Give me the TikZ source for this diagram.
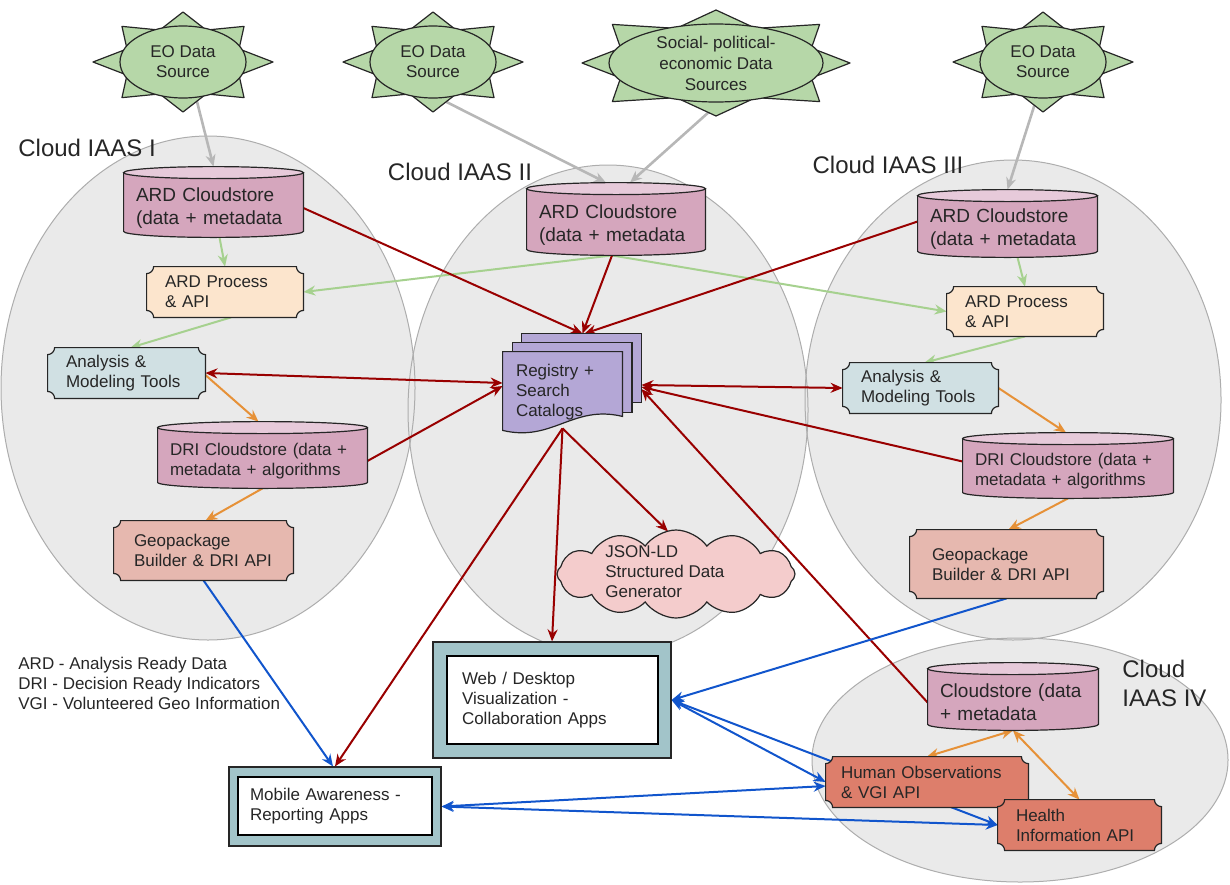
\documentclass[tikz,border=0pt]{standalone}
\usepackage{fontspec}
\setmainfont{Liberation Sans}
\usetikzlibrary{arrows.meta, calc, shapes.geometric, shapes.symbols}
\pgfdeclarelayer{clouds}
\pgfdeclarelayer{edges}
\pgfdeclarelayer{shapes}
\pgfsetlayers{clouds,edges,shapes,main}
\definecolor{ink}{HTML}{262626}
\definecolor{suncol}{HTML}{B6D7A8}
\definecolor{iaascol}{HTML}{EAEAEA}
\definecolor{iaasline}{HTML}{ADADAD}
\definecolor{storecol}{HTML}{D5A6BD}
\definecolor{storelight}{HTML}{E7CADA}
\definecolor{proccol}{HTML}{FCE5CD}
\definecolor{toolcol}{HTML}{D0E0E3}
\definecolor{geocol}{HTML}{E6B8AF}
\definecolor{apicol}{HTML}{DD7E6B}
\definecolor{regcol}{HTML}{B4A7D6}
\definecolor{jsoncol}{HTML}{F4CCCC}
\definecolor{appcol}{HTML}{A2C4C9}
\definecolor{linkred}{HTML}{990000}
\definecolor{linkblue}{HTML}{1155CC}
\definecolor{linkorange}{HTML}{E69138}
\definecolor{linkgreen}{HTML}{A6D18F}
\definecolor{linkgray}{HTML}{B7B7B7}
\tikzset{
    txt/.style = {font=\fontsize{8.5}{10}\selectfont, text=ink},
    bigtxt/.style = {font=\fontsize{9.5}{11.5}\selectfont, text=ink},
    sun/.style = {ellipse, draw=ink, fill=suncol, line width=0.6pt, inner sep=0pt, align=center, txt},
    ray/.style = {draw=ink, fill=suncol, line width=0.6pt, line join=round},
    iaaslabel/.style = {font=\fontsize{12}{14.5}\selectfont, text=ink, align=left, inner sep=0pt},
    store/.style = {txt, inner xsep=6pt, inner ysep=0pt, align=left},
    storebody/.style = {draw=ink, fill=storecol, line width=0.6pt},
    storelid/.style = {draw=ink, fill=storelight, line width=0.6pt},
    plaque/.style = {txt, inner xsep=9pt, inner ysep=0pt, align=left},
    plaqueline/.style = {draw=ink, line width=0.6pt},
    catalog/.style = {draw=ink, fill=regcol, line width=0.6pt},
    appframe/.style = {draw=ink, fill=appcol, line width=0.6pt, inner sep=0pt},
    appbox/.style = {txt, draw=black, fill=white, line width=1pt, inner xsep=7.5pt, inner ysep=0pt, align=left},
    jsoncloud/.style = {cloud, cloud puffs=12, cloud puff arc=110, cloud ignores aspect, draw=ink, fill=jsoncol, line width=0.6pt, inner sep=0pt},
    link/.style = {line width=1pt, ->},
    graylink/.style = {link, draw=linkgray, line width=1.3pt},
    greenlink/.style = {link, draw=linkgreen},
    orangelink/.style = {link, draw=linkorange},
    redlink/.style = {link, draw=linkred},
    bluelink/.style = {link, draw=linkblue}
}
\newcommand\sunrays[3]{%
  \begin{pgfonlayer}{shapes}
  \foreach \ang in {0,180}
    \filldraw[ray] ($(#1.center)+(\ang:#2+13.5pt and #3)$) -- ($(#1.center)+(\ang+19:#2 and #3)$) -- ($(#1.center)+(\ang-19:#2 and #3)$) -- cycle;
  \foreach \ang in {90,270}
    \filldraw[ray] ($(#1.center)+(\ang:#2 and #3+7pt)$) -- ($(#1.center)+(\ang+19:#2 and #3)$) -- ($(#1.center)+(\ang-19:#2 and #3)$) -- cycle;
  \foreach \ang in {45,135,225,315}
    \filldraw[ray] ($(#1.center)+(\ang:1.37*#2 and 1.4*#3)$) -- ($(#1.center)+(\ang+19:#2 and #3)$) -- ($(#1.center)+(\ang-19:#2 and #3)$) -- cycle;
  \end{pgfonlayer}}
\newcommand\plaqueback[2]{%
  \begin{pgfonlayer}{shapes}
  \draw[plaqueline, fill=#2] ($(#1.north west)+(3.5pt,0)$) -- ($(#1.north east)+(-3.5pt,0)$)
    arc[start angle=180, end angle=270, radius=3.5pt] -- ($(#1.south east)+(0,3.5pt)$)
    arc[start angle=90, end angle=180, radius=3.5pt] -- ($(#1.south west)+(3.5pt,0)$)
    arc[start angle=0, end angle=90, radius=3.5pt] -- ($(#1.north west)+(0,-3.5pt)$)
    arc[start angle=270, end angle=360, radius=3.5pt] -- cycle;
  \end{pgfonlayer}}
\newcommand\storeback[1]{%
  \begin{pgfonlayer}{shapes}
  \draw[storebody] let \p1=($(#1.east)-(#1.west)$) in
    ($(#1.north west)+(0,3pt)$) -- ($(#1.south west)+(0,3pt)$)
    arc[start angle=180, end angle=360, x radius=0.5*\x1, y radius=3pt]
    -- ($(#1.north east)+(0,3pt)$) -- cycle;
  \draw[storelid] let \p1=($(#1.east)-(#1.west)$) in
    ($(#1.north)+(0,3pt)$) ellipse[x radius=0.5*\x1, y radius=3pt];
  \end{pgfonlayer}}
\newcommand\catalogstack[1]{%
  \begin{pgfonlayer}{shapes}
  \draw[catalog] ($(#1.north west)+(9.5pt,11pt)$) rectangle ($(#1.south east)+(9.5pt,13pt)$);
  \draw[catalog] ($(#1.north west)+(4.75pt,6.5pt)$) rectangle ($(#1.south east)+(4.75pt,8pt)$);
  \draw[catalog] ($(#1.north west)+(0,2pt)$) -- ($(#1.south west)+(0,-1pt)$)
    .. controls ($(#1.south west)+(25pt,-7pt)$) and ($(#1.south east)+(-25pt,12pt)$) .. ($(#1.south east)+(0,6pt)$)
    -- ($(#1.north east)+(0,2pt)$) -- cycle;
  \end{pgfonlayer}}

\begin{document}
\begin{tikzpicture}[x=0.5pt, y=-0.5pt, >={Stealth[length=6pt, width=5pt]}]
  \useasboundingbox (0,0) rectangle (1230,884);

  \begin{pgfonlayer}{clouds}
    \foreach \cx/\cy/\rx/\ry in {208/388/207/252, 608/410/200/245, 1013/400/208/240, 1020/760/208/122}
      \fill[iaascol] (\cx,\cy) ellipse [x radius=\rx, y radius=\ry];
    \foreach \cx/\cy/\rx/\ry in {208/388/207/252, 608/410/200/245, 1013/400/208/240, 1020/760/208/122}
      \draw[iaasline, line width=0.5pt] (\cx,\cy) ellipse [x radius=\rx, y radius=\ry];
  \end{pgfonlayer}

  \node[iaaslabel, anchor=west] (iaasAlabel) at (18,148) {Cloud IAAS I};
  \node[iaaslabel] (iaasBlabel) at (460,172) {Cloud IAAS II};
  \node[iaaslabel] (iaasClabel) at (888,165) {Cloud IAAS III};
  \node[iaaslabel, anchor=west] (iaasDlabel) at (1122,683) {Cloud\\IAAS IV};

  \node[sun, minimum width=63pt, minimum height=36pt] (eoA) at (183,62) {EO Data\\Source};
  \node[sun, minimum width=63pt, minimum height=36pt] (eoB) at (433,62) {EO Data\\Source};
  \node[sun, minimum width=107pt, minimum height=39pt, font=\fontsize{8.5}{10.5}\selectfont] (socio) at (716,63) {Social- political-\\economic Data\\Sources};
  \node[sun, minimum width=63pt, minimum height=36pt] (eoC) at (1043,62) {EO Data\\Source};
  \sunrays{eoA}{31.5pt}{18pt}
  \sunrays{eoB}{31.5pt}{18pt}
  \sunrays{socio}{53.5pt}{19.5pt}
  \sunrays{eoC}{31.5pt}{18pt}

  \node[store, bigtxt, minimum width=89.5pt, minimum height=29pt, text width=77.5pt] (ardA) at (213.5,208) {ARD Cloudstore\\(data + metadata};
  \node[store, bigtxt, minimum width=89pt, minimum height=30pt, text width=77pt] (ardB) at (616,225) {ARD Cloudstore\\(data + metadata};
  \node[store, bigtxt, minimum width=89.5pt, minimum height=27.5pt, text width=77.5pt] (ardC) at (1007.5,229.5) {ARD Cloudstore\\(data + metadata};
  \node[store, minimum width=104.5pt, minimum height=27pt, text width=92.5pt] (driA) at (262.5,461) {DRI Cloudstore (data +\\metadata + algorithms};
  \node[store, minimum width=105pt, minimum height=26.5pt, text width=93pt] (driC) at (1068,471.5) {DRI Cloudstore (data +\\metadata + algorithms};
  \node[store, bigtxt, minimum width=85pt, minimum height=27.5pt, text width=73pt] (cloudD) at (1013,702.5) {Cloudstore (data\\+ metadata};
  \foreach \s in {ardA,ardB,ardC,driA,driC,cloudD} {\storeback{\s}}

  \node[plaque, minimum width=78pt, minimum height=25pt, text width=60pt] (procA) at (225,292) {ARD Process\\\& API};
  \node[plaque, minimum width=78pt, minimum height=24.5pt, text width=60pt] (procC) at (1025,311.5) {ARD Process\\\& API};
  \node[plaque, minimum width=78.5pt, minimum height=25pt, text width=60.5pt] (toolsA) at (126.5,373) {Analysis \&\\Modeling Tools};
  \node[plaque, minimum width=77.5pt, minimum height=25pt, text width=59.5pt] (toolsC) at (920.5,388) {Analysis \&\\Modeling Tools};
  \node[plaque, inner xsep=10pt, minimum width=89.5pt, minimum height=29.5pt, text width=69.5pt] (geoA) at (203.5,550.5) {Geopackage\\Builder \& DRI API};
  \node[plaque, inner xsep=11pt, minimum width=96.5pt, minimum height=34pt, text width=74.5pt] (geoC) at (1006.5,564) {Geopackage\\Builder \& DRI API};
  \node[plaque, inner xsep=7.5pt, minimum width=101pt, minimum height=25pt, text width=86pt] (human) at (927,782) {Human Observations\\\& VGI API};
  \node[plaque, minimum width=81.5pt, minimum height=25pt, text width=63.5pt] (health) at (1079.5,825) {Health\\Information API};
  \plaqueback{procA}{proccol}
  \plaqueback{procC}{proccol}
  \plaqueback{toolsA}{toolcol}
  \plaqueback{toolsC}{toolcol}
  \plaqueback{geoA}{geocol}
  \plaqueback{geoC}{geocol}
  \plaqueback{human}{apicol}
  \plaqueback{health}{apicol}

  \node[txt, inner xsep=6.5pt, inner ysep=0pt, align=left, minimum width=59.5pt, minimum height=36pt, text width=46.5pt] (reg) at (562.5,392) {Registry +\\Search\\Catalogs};
  \catalogstack{reg}

  \node[jsoncloud, minimum width=119pt, minimum height=44pt] (json) at (676,574) {};
  \node[txt, anchor=west, align=left, inner sep=0pt] (jsonlabel) at (605,572) {JSON-LD\\Structured Data\\Generator};

  \node[appframe, minimum width=119pt, minimum height=58pt] (webframe) at (552,700) {};
  \node[appbox, minimum width=105.5pt, minimum height=44pt, text width=90.5pt] (web) at (552.5,700) {Web / Desktop\\Visualization -\\Collaboration Apps};
  \node[appframe, minimum width=106pt, minimum height=39.5pt] (mobileframe) at (335,806.5) {};
  \node[appbox, inner xsep=6pt, minimum width=97pt, minimum height=29pt, text width=85pt] (mobile) at (335,806) {Mobile Awareness -\\Reporting Apps};

  \node[txt, anchor=west, align=left, inner sep=0pt] (legend) at (18,683) {ARD - Analysis Ready Data\\DRI - Decision Ready Indicators\\VGI - Volunteered Geo Information};

  \begin{pgfonlayer}{edges}
    \draw[graylink] (eoA.-70) -- ($(ardA.north)+(0,6pt)$);
    \draw[graylink] (eoB.-80) -- ($(ardB.north)+(-5pt,6pt)$);
    \draw[graylink] (socio.-85) -- ($(ardB.north)+(7pt,6pt)$);
    \draw[graylink] (eoC.-100) -- ($(ardC.north)+(0,6pt)$);

    \draw[greenlink] ($(ardA.south)+(3pt,0)$) -- (procA.north);
    \draw[greenlink] ($(ardB.south)+(-2pt,0)$) -- (procA.east);
    \draw[greenlink] ($(ardB.south)+(-2pt,0)$) -- (procC.west);
    \draw[greenlink] ($(ardC.south)+(5pt,0)$) -- (procC.north);
    \draw[greenlink] ($(procA.south)+(3pt,0)$) -- ($(toolsA.north)+(2pt,0)$);
    \draw[greenlink] (procC.south) -- ($(toolsC.north)+(2pt,0)$);

    \draw[orangelink] ($(toolsA.east)+(0,-1pt)$) -- ($(driA.north)+(-2pt,6pt)$);
    \draw[orangelink] (driA.south) -- ($(geoA.north)+(1pt,0)$);
    \draw[orangelink] (toolsC.east) -- ($(driC.north)+(-1pt,6pt)$);
    \draw[orangelink] (driC.south) -- ($(geoC.north)+(1pt,0)$);
    \draw[orangelink, <->] (cloudD.south) -- (human.north);
    \draw[orangelink, <->] (cloudD.south) -- (health.north);

    \draw[redlink] (ardA.east) -- ($(reg.north)+(10pt,11pt)$);
    \draw[redlink] ($(ardB.south)+(-2pt,0)$) -- ($(reg.north)+(10pt,11pt)$);
    \draw[redlink] ($(ardC.west)+(0,4pt)$) -- ($(reg.north)+(11pt,11pt)$);
    \draw[redlink, <->] (toolsA.east) -- ($(reg.west)+(0,4.5pt)$);
    \draw[redlink] (driA.east) -- ($(reg.west)+(0,3pt)$);
    \draw[redlink, <->] ($(reg.east)+(9.5pt,3.5pt)$) -- (toolsC.west);
    \draw[redlink] ($(driC.west)+(0,5pt)$) -- ($(reg.east)+(9.5pt,2.5pt)$);
    \draw[redlink] (cloudD.west) -- ($(reg.east)+(9.5pt,1.5pt)$);
    \draw[redlink] (reg.south) -- ($(json.north)+(-4pt,-1pt)$);
    \draw[redlink] (reg.south) -- (webframe.north);
    \draw[redlink] (reg.south) -- (mobileframe.north);

    \draw[bluelink] (geoA.south) -- ($(mobileframe.north)+(-1pt,0)$);
    \draw[bluelink] (geoC.south) -- (webframe.east);
    \draw[bluelink, <->] (webframe.east) -- (human.west);
    \draw[bluelink, <->] (webframe.east) -- (health.west);
    \draw[bluelink, <->] (mobileframe.east) -- ($(human.west)+(0,-2pt)$);
    \draw[bluelink, <->] (mobileframe.east) -- (health.west);
  \end{pgfonlayer}
\end{tikzpicture}
\end{document}
